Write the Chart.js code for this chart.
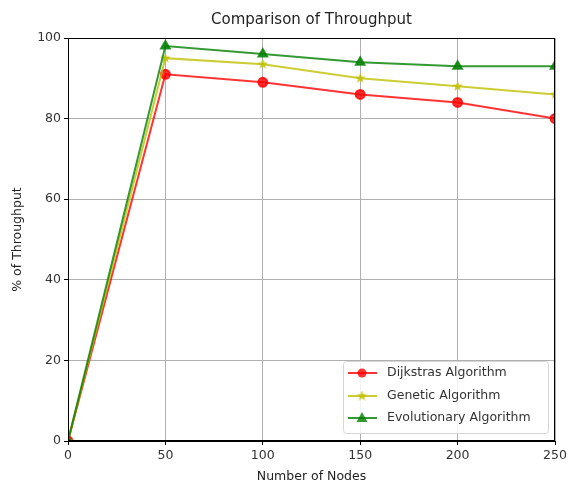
<!DOCTYPE html>
<html>
<head>
<meta charset="utf-8">
<script src="https://cdn.jsdelivr.net/npm/chart.js@4/dist/chart.umd.min.js"></script>
<style>
  html, body { margin: 0; padding: 0; background: #fff; }
  #wrap { width: 571px; height: 486px; }
</style>
</head>
<body>
<div id="wrap"><canvas id="throughputChart" width="571" height="486"></canvas></div>
<script>
// data
const nodes = [0, 50, 100, 150, 200, 250];
const dijkstras = [0, 91, 89, 86, 84, 80];
const genetic = [0, 95, 93.5, 90, 88, 86];
const evolutionary = [0, 98, 96, 94, 93, 93];
const xTicks = [0, 50, 100, 150, 200, 250];
const yTicks = [0, 20, 40, 60, 80, 100];

const FONT = 'DejaVu Sans';

// matplotlib-ish filled star marker
function makeStar(size, color) {
    const c = document.createElement('canvas');
    c.width = size; c.height = size;
    const g = c.getContext('2d');
    const cx = size / 2, cy = size / 2, R = size / 2, r = R * 0.42;
    g.beginPath();
    for (let i = 0; i < 10; i++) {
        const rad = i % 2 === 0 ? R : r;
        const a = -Math.PI / 2 + i * Math.PI / 5;
        g.lineTo(cx + rad * Math.cos(a), cy + rad * Math.sin(a));
    }
    g.closePath();
    g.fillStyle = color;
    g.fill();
    return c;
}
const starImg = makeStar(11, 'rgba(191,191,0,0.85)');

const series = [
    { label: 'Dijkstras Algorithm', values: dijkstras, color: 'rgba(255,0,0,0.8)', style: 'circle', r: 4.5, order: 3 },
    { label: 'Genetic Algorithm', values: genetic, color: 'rgba(191,191,0,0.8)', style: starImg, r: 5, order: 2 },
    { label: 'Evolutionary Algorithm', values: evolutionary, color: 'rgba(0,128,0,0.8)', style: 'triangle', r: 5, order: 1 }
];

// frame, title and in-plot legend
const decor = {
    id: 'decor',
    afterDraw(chart) {
        const { ctx, chartArea: a } = chart;
        ctx.save();
        ctx.strokeStyle = '#000';
        ctx.lineWidth = 1;
        ctx.strokeRect(a.left + 0.5, a.top + 0.5, a.right - a.left - 1, a.bottom - a.top - 1);

        ctx.fillStyle = '#222';
        ctx.font = '15px ' + FONT;
        ctx.textAlign = 'center';
        ctx.textBaseline = 'middle';
        ctx.fillText('Comparison of Throughput', (a.left + a.right) / 2, 20);

        // legend box
        const bx = 343, by = 361, bw = 205, bh = 72;
        ctx.fillStyle = 'rgba(255,255,255,0.85)';
        ctx.strokeStyle = '#d6d6d6';
        ctx.lineWidth = 1;
        ctx.beginPath();
        ctx.roundRect(bx + 0.5, by + 0.5, bw, bh, 3);
        ctx.fill();
        ctx.stroke();
        const rows = [373, 396, 418];
        series.forEach((s, i) => {
            const y = rows[i];
            ctx.strokeStyle = s.color;
            ctx.lineWidth = 2;
            ctx.beginPath();
            ctx.moveTo(348, y);
            ctx.lineTo(377, y);
            ctx.stroke();
            ctx.fillStyle = s.color;
            if (s.style === 'circle') {
                ctx.beginPath();
                ctx.arc(362, y, 4.5, 0, Math.PI * 2);
                ctx.fill();
            } else if (s.style === 'triangle') {
                ctx.beginPath();
                ctx.moveTo(362, y - 6);
                ctx.lineTo(367.5, y + 4);
                ctx.lineTo(356.5, y + 4);
                ctx.closePath();
                ctx.fill();
            } else {
                ctx.drawImage(s.style, 362 - 5.5, y - 5.5);
            }
            ctx.fillStyle = '#333';
            ctx.font = '12.5px ' + FONT;
            ctx.textAlign = 'left';
            ctx.fillText(s.label, 387, y);
        });
        ctx.restore();
    }
};

new Chart(document.getElementById('throughputChart'), {
    type: 'line',
    data: {
        datasets: series.map(s => ({
            label: s.label,
            data: nodes.map((x, i) => ({ x: x, y: s.values[i] })),
            borderColor: s.color,
            backgroundColor: s.color,
            pointBackgroundColor: s.color,
            pointBorderColor: s.color,
            pointStyle: s.style,
            pointRadius: s.r,
            borderWidth: 2,
            tension: 0,
            order: s.order
        }))
    },
    options: {
        responsive: false,
        animation: false,
        layout: { padding: { top: 38, right: 16, left: 0, bottom: 0 } },
        plugins: { legend: { display: false }, tooltip: { enabled: false } },
        scales: {
            x: {
                type: 'linear', min: 0, max: 250,
                afterBuildTicks: sc => { sc.ticks = xTicks.map(v => ({ value: v })); },
                afterFit: sc => { sc.height = 45; },
                grid: { color: '#b0b0b0', lineWidth: 1, tickColor: '#000', tickLength: 4 },
                border: { color: '#000' },
                ticks: { color: '#333', font: { family: FONT, size: 12.5 }, padding: 3, maxRotation: 0 },
                title: { display: true, text: 'Number of Nodes', color: '#222', font: { family: FONT, size: 12.5 }, padding: { top: 0, bottom: 2 } }
            },
            y: {
                min: 0, max: 100,
                afterBuildTicks: sc => { sc.ticks = yTicks.map(v => ({ value: v })); },
                afterFit: sc => { sc.width = 68; },
                grid: { color: '#b0b0b0', lineWidth: 1, tickColor: '#000', tickLength: 4 },
                border: { color: '#000' },
                ticks: { color: '#333', font: { family: FONT, size: 12.5 }, padding: 3 },
                title: { display: true, text: '% of Throughput', color: '#222', font: { family: FONT, size: 12.5 }, padding: { top: 10, bottom: 0 } }
            }
        }
    },
    plugins: [decor]
});
</script>
</body>
</html>
